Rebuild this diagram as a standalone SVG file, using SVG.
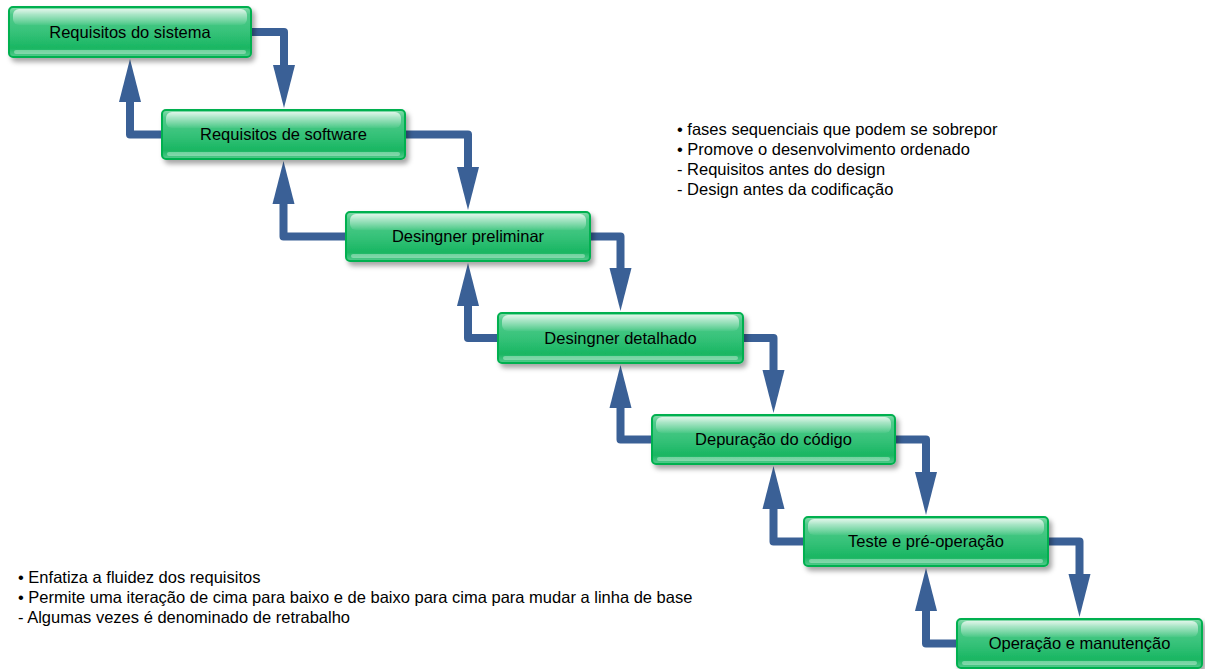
<svg xmlns="http://www.w3.org/2000/svg" width="1205" height="669" viewBox="0 0 1205 669">
<defs>
  <linearGradient id="gBody" x1="0" y1="0" x2="0" y2="1">
    <stop offset="0" stop-color="#86dbac"/>
    <stop offset="0.15" stop-color="#50cb8b"/>
    <stop offset="0.5" stop-color="#36c279"/>
    <stop offset="0.82" stop-color="#19b662"/>
    <stop offset="1" stop-color="#55cc8e"/>
  </linearGradient>
  <linearGradient id="gHi" x1="0" y1="0" x2="0" y2="1">
    <stop offset="0" stop-color="#ffffff" stop-opacity="0.75"/>
    <stop offset="1" stop-color="#ffffff" stop-opacity="0.05"/>
  </linearGradient>
  <filter id="sh" x="-5%" y="-20%" width="115%" height="160%">
    <feDropShadow dx="3" dy="4" stdDeviation="2.5" flood-color="#000" flood-opacity="0.35"/>
  </filter>
  <marker id="ah" markerUnits="userSpaceOnUse" markerWidth="44" markerHeight="24" viewBox="0 0 44 24" refX="0" refY="12" orient="auto">
    <path d="M0,1 L43,12 L0,23 z" fill="#3a6096"/>
  </marker>
  <style>
    .body{fill:url(#gBody);stroke:#00b050;stroke-width:2;filter:url(#sh)}
    .hi{fill:url(#gHi)}
    .lo{fill:#ffffff;fill-opacity:0.35}
    .lbl{font-family:"Liberation Sans",Arial,sans-serif;font-size:16.5px;fill:#000;text-anchor:middle}
    .note{font-family:"Liberation Sans",Arial,sans-serif;font-size:16.5px;fill:#000}
    .con{fill:none;stroke:#3a6096;stroke-width:8;stroke-linejoin:round;marker-end:url(#ah)}
  </style>
</defs>
<rect width="1205" height="669" fill="#ffffff"/>

<g id="connectors">
  <path class="con" d="M248,32 H284 V65"/>
  <path class="con" d="M165,134.5 H130 V102"/>
  <path class="con" d="M402,134.5 H468 V167"/>
  <path class="con" d="M349,236.5 H283.5 V204"/>
  <path class="con" d="M587,236.5 H620.5 V268"/>
  <path class="con" d="M501,338 H468 V306"/>
  <path class="con" d="M740,338 H773.5 V370"/>
  <path class="con" d="M655,439.5 H620.5 V408"/>
  <path class="con" d="M892,439.5 H926 V472"/>
  <path class="con" d="M807,541.5 H773.5 V509"/>
  <path class="con" d="M1045,541.5 H1079.5 V574"/>
  <path class="con" d="M960,643.5 H926 V611"/>
</g>

<g id="n1">
  <rect class="body" x="9" y="7" width="242" height="50" rx="4"/>
  <rect class="hi" x="13" y="9" width="234" height="16" rx="6"/>
  <rect class="lo" x="14" y="50" width="232" height="4" rx="2"/>
  <text class="lbl" x="130" y="37.5">Requisitos do sistema</text>
</g>
<g id="n2">
  <rect class="body" x="162" y="110" width="243" height="49" rx="4"/>
  <rect class="hi" x="166" y="112" width="235" height="16" rx="6"/>
  <rect class="lo" x="167" y="152" width="233" height="4" rx="2"/>
  <text class="lbl" x="283.5" y="140">Requisitos de software</text>
</g>
<g id="n3">
  <rect class="body" x="346" y="212" width="244" height="49" rx="4"/>
  <rect class="hi" x="350" y="214" width="236" height="16" rx="6"/>
  <rect class="lo" x="351" y="254" width="234" height="4" rx="2"/>
  <text class="lbl" x="468" y="242">Desingner preliminar</text>
</g>
<g id="n4">
  <rect class="body" x="498" y="313" width="245" height="50" rx="4"/>
  <rect class="hi" x="502" y="315" width="237" height="16" rx="6"/>
  <rect class="lo" x="503" y="356" width="235" height="4" rx="2"/>
  <text class="lbl" x="620.5" y="343.5">Desingner detalhado</text>
</g>
<g id="n5">
  <rect class="body" x="652" y="415" width="243" height="49" rx="4"/>
  <rect class="hi" x="656" y="417" width="235" height="16" rx="6"/>
  <rect class="lo" x="657" y="457" width="233" height="4" rx="2"/>
  <text class="lbl" x="773.5" y="445">Depuração do código</text>
</g>
<g id="n6">
  <rect class="body" x="804" y="517" width="244" height="49" rx="4"/>
  <rect class="hi" x="808" y="519" width="236" height="16" rx="6"/>
  <rect class="lo" x="809" y="559" width="234" height="4" rx="2"/>
  <text class="lbl" x="926" y="547">Teste e pré-operação</text>
</g>
<g id="n7">
  <rect class="body" x="957" y="619" width="245" height="49" rx="4"/>
  <rect class="hi" x="961" y="621" width="237" height="16" rx="6"/>
  <rect class="lo" x="962" y="661" width="235" height="4" rx="2"/>
  <text class="lbl" x="1079.5" y="649">Operação e manutenção</text>
</g>

<g id="notes-right">
  <text class="note" x="677" y="135">• fases sequenciais que podem se sobrepor</text>
  <text class="note" x="677" y="155">• Promove o desenvolvimento ordenado</text>
  <text class="note" x="677" y="175">- Requisitos antes do design</text>
  <text class="note" x="677" y="195">- Design antes da codificação</text>
</g>
<g id="notes-left">
  <text class="note" x="18" y="583">• Enfatiza a fluidez dos requisitos</text>
  <text class="note" x="18" y="603">• Permite uma iteração de cima para baixo e de baixo para cima para mudar a linha de base</text>
  <text class="note" x="18" y="623">- Algumas vezes é denominado de retrabalho</text>
</g>
</svg>
